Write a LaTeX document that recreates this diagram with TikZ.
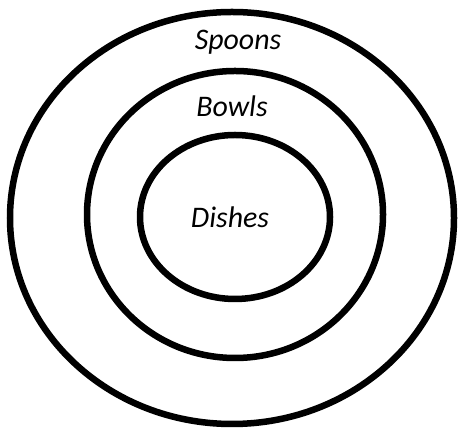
\documentclass[tikz,border=0pt]{standalone}
\usepackage{fontspec}
\setmainfont{Carlito}
\usepackage{tikz}
\usetikzlibrary{positioning}

\begin{document}
\begin{tikzpicture}[x=0.02cm, y=0.02cm, font=\fontsize{17}{20}\selectfont\itshape]
    \tikzstyle{ring} = [draw=black, line width=3.7pt]
    \tikzstyle{tag} = [inner sep=0pt, text centered]

    \useasboundingbox (0,0) rectangle (462,428);

    % Rings
    \draw [ring] (232,210) ellipse [x radius=222, y radius=206];
    \draw [ring] (235,213.5) ellipse [x radius=148, y radius=143.5];
    \draw [ring] (235,211) ellipse [x radius=95, y radius=82];

    % Labels
    \node (spoons) [tag] at (238,386) {Spoons};
    \node (bowls) [tag] at (232,322) {Bowls};
    \node (dishes) [tag] at (230,211) {Dishes};
\end{tikzpicture}
\end{document}
